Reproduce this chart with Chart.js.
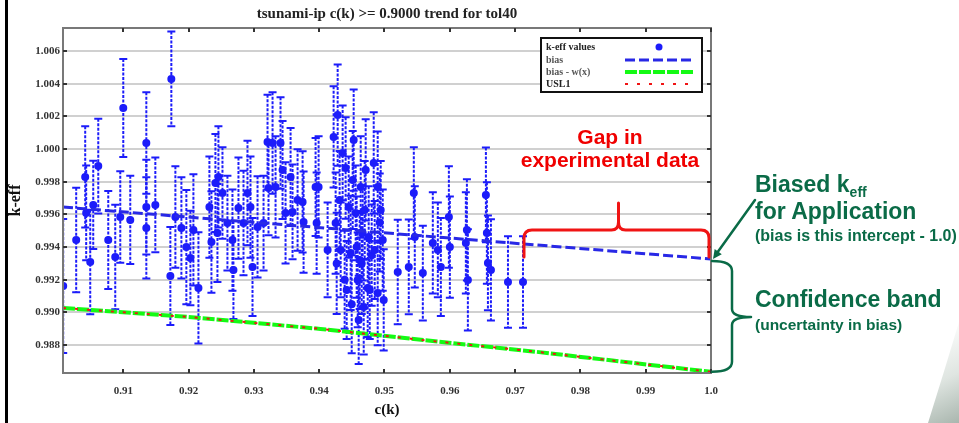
<!DOCTYPE html>
<html><head><meta charset="utf-8">
<script src="https://cdn.jsdelivr.net/npm/chart.js@4.4.1/dist/chart.umd.min.js"></script>
<style>
html,body{margin:0;padding:0;background:#fff;}
#wrap{position:relative;width:959px;height:423px;overflow:hidden;background:#fff;}
canvas{position:absolute;left:0;top:0;}
.ann{position:absolute;font-family:"Liberation Sans",Arial,sans-serif;font-weight:bold;line-height:1;white-space:nowrap;}
.red{color:#f00000;}
.grn{color:#0a6b47;}
</style></head><body>
<div id="wrap">
<canvas id="c" width="959" height="423"></canvas>
<div class="ann red" style="left:510px;width:200px;text-align:center;top:126px;font-size:21px">Gap in</div>
<div class="ann red" style="left:510px;width:200px;text-align:center;top:149px;font-size:21px">experimental data</div>
<div class="ann grn" style="left:755px;top:173px;font-size:23px">Biased k<span style="font-size:14px;position:relative;top:5px">eff</span></div>
<div class="ann grn" style="left:755px;top:200px;font-size:23px">for Application</div>
<div class="ann grn" style="left:755px;top:228px;font-size:16px">(bias is this intercept - 1.0)</div>
<div class="ann grn" style="left:755px;top:288px;font-size:23px">Confidence band</div>
<div class="ann grn" style="left:755px;top:317px;font-size:15.5px">(uncertainty in bias)</div>
</div>
<script>
// ---- data ----
const ck = [0.90080,0.90279,0.90417,0.90432,0.90494,0.90540,0.90617,0.90770,0.90877,0.90954,
0.91000,0.91107,0.91353,0.91353,0.91353,0.91491,0.91721,0.91736,0.91798,0.91890,
0.91966,0.92028,0.92074,0.92151,0.92319,0.92350,0.92411,0.92442,0.92457,0.92519,
0.92595,0.92672,0.92687,0.92764,0.92841,0.92902,0.92948,0.92979,0.93056,0.93148,
0.93209,0.93224,0.93286,0.93332,0.93408,0.93439,0.93485,0.93562,0.93592,0.93669,
0.93746,0.93761,0.93945,0.93961,0.93991,0.94129,0.94221,0.94283,0.94252,0.94359,
0.94329,0.94405,0.94452,0.94482,0.94528,0.94559,0.94590,0.94605,0.94636,0.94666,
0.94682,0.94712,0.94758,0.94835,0.94896,0.94896,0.94973,0.94988,0.95203,0.95372,
0.95449,0.95464,0.95587,0.95740,0.95817,0.95863,0.95986,0.96001,0.96246,0.96262,
0.96277,0.96553,0.96568,0.96584,0.96630,0.96891,0.97121,
0.94268,0.94390,0.94498,0.94574,0.94651,0.94743,0.94804,0.94927,
0.94313,0.94421,0.94513,0.94620,0.94697,0.94774,0.94850,0.94942];
const keff = [0.99162,0.99443,0.99829,0.99609,0.99309,0.99658,0.99896,0.99443,0.99339,0.99584,
1.00251,0.99566,1.00037,0.99645,0.99517,0.99658,0.99223,1.00429,0.99584,0.99517,
0.99400,0.99333,0.99505,0.99150,0.99645,0.99431,0.99792,0.99486,0.99829,0.99731,
0.99547,0.99443,0.99260,0.99639,0.99547,0.99731,0.99645,0.99278,0.99523,0.99547,
1.00043,0.99762,1.00037,0.99768,1.00037,0.99872,0.99609,0.99829,0.99615,0.99688,
0.99676,0.99553,0.99768,0.99547,0.99768,0.99382,1.00074,1.00208,0.99547,0.99976,
0.99382,0.99884,0.99645,0.99364,1.00055,0.99609,0.99199,0.98954,0.99768,0.99486,
0.99033,0.99872,0.99462,0.99915,0.99768,0.99119,0.99443,0.99076,0.99247,0.99278,
0.99731,0.99462,0.99241,0.99425,0.99382,0.99278,0.99584,0.99400,0.99425,0.99505,
0.99199,0.99719,0.99486,0.99303,0.99260,0.99186,0.99186,
0.99300,0.99200,0.99050,0.99400,0.99300,0.99150,0.99350,0.99550,
0.99688,0.99137,0.99811,0.99321,0.99627,0.99137,0.99382,0.99627];
const sigma = [0.0041,0.0032,0.0031,0.0029,0.0032,0.0027,0.0029,0.0030,0.0032,0.0028,
0.0030,0.0027,0.0031,0.0029,0.0031,0.0029,0.0030,0.0029,0.0031,0.0031,
0.0035,0.0029,0.0034,0.0034,0.0031,0.0031,0.0030,0.0030,0.0031,0.0028,
0.0029,0.0031,0.0030,0.0031,0.0032,0.0032,0.0031,0.0030,0.0031,0.0029,
0.0029,0.0029,0.0031,0.0031,0.0028,0.0030,0.0031,0.0030,0.0029,0.0031,
0.0031,0.0031,0.0030,0.0031,0.0031,0.0029,0.0031,0.0031,0.0031,0.0029,
0.0029,0.0031,0.0031,0.0035,0.0031,0.0029,0.0029,0.0027,0.0031,0.0029,
0.0029,0.0031,0.0031,0.0031,0.0034,0.0032,0.0031,0.0031,0.0032,0.0029,
0.0028,0.0031,0.0029,0.0031,0.0029,0.0030,0.0031,0.0031,0.0031,0.0031,
0.0031,0.0029,0.0031,0.0029,0.0031,0.0028,0.0028,
0.0031,0.0030,0.0030,0.0031,0.0031,0.0030,0.0031,0.0030,
0.0030,0.0030,0.0030,0.0030,0.0030,0.0030,0.0030,0.0030];
const biasX = [0.90077, 1.0];
const biasY = [0.99645, 0.99327];
const bandX = [0.90077, 0.92, 0.9402, 0.9556, 0.9732, 1.0];
const bandLowY = [0.99027, 0.98972, 0.98899, 0.98832, 0.98759, 0.98636];
const usl1Y = [0.99027, 0.98972, 0.98899, 0.98832, 0.98759, 0.98636];
const xTickValues = [0.91,0.92,0.93,0.94,0.95,0.96,0.97,0.98,0.99,1.0];
const xTickLabels = ['0.91','0.92','0.93','0.94','0.95','0.96','0.97','0.98','0.99','1.0'];
const yTickValues = [0.988,0.990,0.992,0.994,0.996,0.998,1.000,1.002,1.004,1.006];
const yTickLabels = ['0.988','0.990','0.992','0.994','0.996','0.998','1.000','1.002','1.004','1.006'];

const BLUE = 'rgb(28,28,250)';
const BIASC = 'rgb(40,40,230)';
const GREEN = 'rgb(20,250,20)';
const RED = 'rgb(240,20,20)';
const DKGREEN = '#0a6b47';

const decor = {
  id: 'decor',
  beforeDraw(chart) {
    const ctx = chart.ctx;
    ctx.save();
    ctx.fillStyle = '#fff';
    ctx.fillRect(0, 0, chart.width, chart.height);
    ctx.fillStyle = '#000';
    ctx.fillRect(5, 0, 3, chart.height);
    const g = ctx.createLinearGradient(920, 340, 959, 423);
    g.addColorStop(0, '#fbfcfb');
    g.addColorStop(0.5, '#dfe5e1');
    g.addColorStop(1, '#a9b6ae');
    ctx.fillStyle = g;
    ctx.beginPath();
    ctx.moveTo(959, 322);
    ctx.quadraticCurveTo(944, 372, 928, 423);
    ctx.lineTo(959, 423);
    ctx.closePath();
    ctx.fill();
    ctx.restore();
  },
  beforeDatasetsDraw(chart) {
    const ctx = chart.ctx, a = chart.chartArea;
    const xs = chart.scales.x, ys = chart.scales.y;
    ctx.save();
    ctx.beginPath(); ctx.rect(a.left, a.top, a.right - a.left, a.bottom - a.top); ctx.clip();
    ctx.strokeStyle = BLUE; ctx.lineWidth = 2;
    for (let i = 0; i < ck.length; i++) {
      const px = xs.getPixelForValue(ck[i]);
      const t = ys.getPixelForValue(keff[i] + sigma[i]);
      const b = ys.getPixelForValue(keff[i] - sigma[i]);
      ctx.setLineDash([3, 1.5]);
      ctx.beginPath(); ctx.moveTo(px, t); ctx.lineTo(px, b); ctx.stroke();
      ctx.setLineDash([]);
      ctx.beginPath();
      ctx.moveTo(px - 4, t); ctx.lineTo(px + 4, t);
      ctx.moveTo(px - 4, b); ctx.lineTo(px + 4, b);
      ctx.stroke();
    }
    ctx.restore();
  },
  afterDatasetsDraw(chart) {
    const ctx = chart.ctx, a = chart.chartArea;
    const xs = chart.scales.x, ys = chart.scales.y;
    ctx.save();
    ctx.strokeStyle = 'rgb(120,120,120)'; ctx.lineWidth = 2;
    ctx.strokeRect(a.left, a.top, a.right - a.left, a.bottom - a.top);
    ctx.strokeStyle = '#333'; ctx.lineWidth = 2;
    ctx.beginPath();
    xTickValues.forEach(v => {
      const px = Math.round(xs.getPixelForValue(v));
      ctx.moveTo(px, a.bottom); ctx.lineTo(px, a.bottom - 4);
      ctx.moveTo(px, a.top); ctx.lineTo(px, a.top + 4);
    });
    yTickValues.forEach(v => {
      const py = Math.round(ys.getPixelForValue(v));
      ctx.moveTo(a.left, py); ctx.lineTo(a.left + 4, py);
      ctx.moveTo(a.right, py); ctx.lineTo(a.right - 4, py);
    });
    ctx.stroke();
    ctx.restore();
  },
  afterDraw(chart) {
    const ctx = chart.ctx, a = chart.chartArea;
    const xs = chart.scales.x, ys = chart.scales.y;
    ctx.save();
    const lx = 541, ly = 38, lw = 161, lh = 54;
    ctx.fillStyle = '#fff'; ctx.fillRect(lx, ly, lw, lh);
    ctx.strokeStyle = '#111'; ctx.lineWidth = 2; ctx.strokeRect(lx, ly, lw, lh);
    const ds = chart.data.datasets;
    const rows = [47, 60, 72, 84];
    ctx.font = 'bold 10px "Liberation Serif"';
    ctx.textBaseline = 'middle'; ctx.textAlign = 'left';
    ds.forEach((d, i) => {
      ctx.fillStyle = i === 0 || i === 3 ? '#222' : '#555';
      ctx.fillText(d.label, lx + 5, rows[i]);
      if (i === 0) {
        ctx.fillStyle = BLUE; ctx.beginPath(); ctx.arc(659, rows[i], 3.5, 0, Math.PI * 2); ctx.fill();
      } else {
        ctx.strokeStyle = d.borderColor; ctx.lineWidth = d.borderWidth;
        ctx.setLineDash(d.borderDash);
        ctx.beginPath(); ctx.moveTo(625, rows[i]); ctx.lineTo(695, rows[i]); ctx.stroke();
        ctx.setLineDash([]);
      }
    });
    const xl = xs.getPixelForValue(ck[96]) + 1, xr = a.right - 2;
    const xm = (xl + xr) / 2 + 2;
    const yb = 257, yh = 230, yt = 203;
    ctx.strokeStyle = RED; ctx.lineWidth = 3; ctx.lineCap = 'round';
    ctx.beginPath();
    ctx.moveTo(xl, yb); ctx.lineTo(xl, yh + 8); ctx.quadraticCurveTo(xl, yh, xl + 8, yh);
    ctx.lineTo(xm - 7, yh); ctx.quadraticCurveTo(xm, yh, xm, yh - 8); ctx.lineTo(xm, yt);
    ctx.moveTo(xm, yh - 8); ctx.quadraticCurveTo(xm, yh, xm + 7, yh);
    ctx.lineTo(xr - 8, yh); ctx.quadraticCurveTo(xr, yh, xr, yh + 8); ctx.lineTo(xr, yb);
    ctx.stroke();
    const yT = ys.getPixelForValue(biasY[1]) + 2, yB = ys.getPixelForValue(bandLowY[5]);
    const yM = 317, xa = a.right + 1, xb = a.right + 21, xt = a.right + 40;
    ctx.strokeStyle = DKGREEN; ctx.lineWidth = 2.5;
    ctx.beginPath();
    ctx.moveTo(xa, yT); ctx.quadraticCurveTo(xb, yT, xb, yT + 10); ctx.lineTo(xb, yM - 8);
    ctx.quadraticCurveTo(xb, yM, xt, yM);
    ctx.moveTo(xt, yM); ctx.quadraticCurveTo(xb, yM, xb, yM + 8); ctx.lineTo(xb, yB - 10);
    ctx.quadraticCurveTo(xb, yB, xa, yB);
    ctx.stroke();
    const ax0 = 755, ay0 = 200, ax1 = a.right + 2, ay1 = ys.getPixelForValue(biasY[1]);
    ctx.beginPath(); ctx.moveTo(ax0, ay0); ctx.lineTo(ax1 + 4, ay1 - 6); ctx.stroke();
    const ang = Math.atan2(ay1 - ay0, ax1 - ax0);
    ctx.fillStyle = DKGREEN;
    ctx.beginPath();
    ctx.moveTo(ax1, ay1);
    ctx.lineTo(ax1 - 10 * Math.cos(ang - 0.45), ay1 - 10 * Math.sin(ang - 0.45));
    ctx.lineTo(ax1 - 10 * Math.cos(ang + 0.45), ay1 - 10 * Math.sin(ang + 0.45));
    ctx.closePath(); ctx.fill();
    ctx.restore();
  }
};

new Chart(document.getElementById('c'), {
  type: 'scatter',
  data: {
    datasets: [
      { label: 'k-eff values', data: ck.map((x, i) => ({ x, y: keff[i] })),
        pointRadius: 4, pointBackgroundColor: BLUE, pointBorderWidth: 0, showLine: false, order: 5,
        borderColor: BLUE, borderWidth: 0, borderDash: [] },
      { label: 'bias', data: biasX.map((x, i) => ({ x, y: biasY[i] })), showLine: true,
        borderColor: BIASC, borderWidth: 3, borderDash: [10, 4], pointRadius: 0, order: 1, clip: false },
      { label: 'bias - w(x)', data: bandX.map((x, i) => ({ x, y: bandLowY[i] })), showLine: true,
        borderColor: GREEN, borderWidth: 4, borderDash: [12, 2], pointRadius: 0, order: 3, clip: false },
      { label: 'USL1', data: bandX.map((x, i) => ({ x, y: usl1Y[i] })), showLine: true,
        borderColor: RED, borderWidth: 2, borderDash: [3, 9], pointRadius: 0, order: 2, clip: false }
    ]
  },
  options: {
    responsive: false, animation: false, devicePixelRatio: 1,
    layout: { padding: { left: 0, right: 248, top: 0, bottom: 0 } },
    plugins: {
      legend: { display: false }, tooltip: { enabled: false },
      title: { display: true, fullSize: false, text: 'tsunami-ip c(k) >= 0.9000 trend for tol40',
        font: { family: 'Liberation Serif', size: 15, weight: 'bold' }, color: '#222',
        padding: { top: 5, bottom: 5 } }
    },
    scales: {
      x: { type: 'linear', min: 0.90077, max: 1.0,
        afterBuildTicks: s => { s.ticks = xTickValues.map(v => ({ value: v })); },
        afterFit: s => { s.height = 50; },
        grid: { display: false, drawTicks: false }, border: { display: false },
        ticks: { autoSkip: false, maxRotation: 0, padding: 12, color: '#333',
          font: { family: 'Liberation Serif', size: 11, weight: 'bold' },
          callback: (v, i) => xTickLabels[i] },
        title: { display: true, text: 'c(k)', color: '#111',
          font: { family: 'Liberation Serif', size: 15, weight: 'bold' }, padding: { top: 0, bottom: 4 } } },
      y: { min: 0.98629, max: 1.00741,
        afterBuildTicks: s => { s.ticks = yTickValues.map(v => ({ value: v })); },
        afterFit: s => { s.width = 63; },
        grid: { color: 'rgb(208,208,208)', lineWidth: 2, drawTicks: false }, border: { display: false },
        ticks: { autoSkip: false, padding: 3, color: '#333',
          font: { family: 'Liberation Serif', size: 11, weight: 'bold' },
          callback: (v, i) => yTickLabels[i] },
        title: { display: true, text: 'k-eff', color: '#111',
          font: { family: 'Liberation Serif', size: 16, weight: 'bold' }, padding: { top: 6, bottom: 0 } } }
    }
  },
  plugins: [decor]
});
</script>
</body></html>
